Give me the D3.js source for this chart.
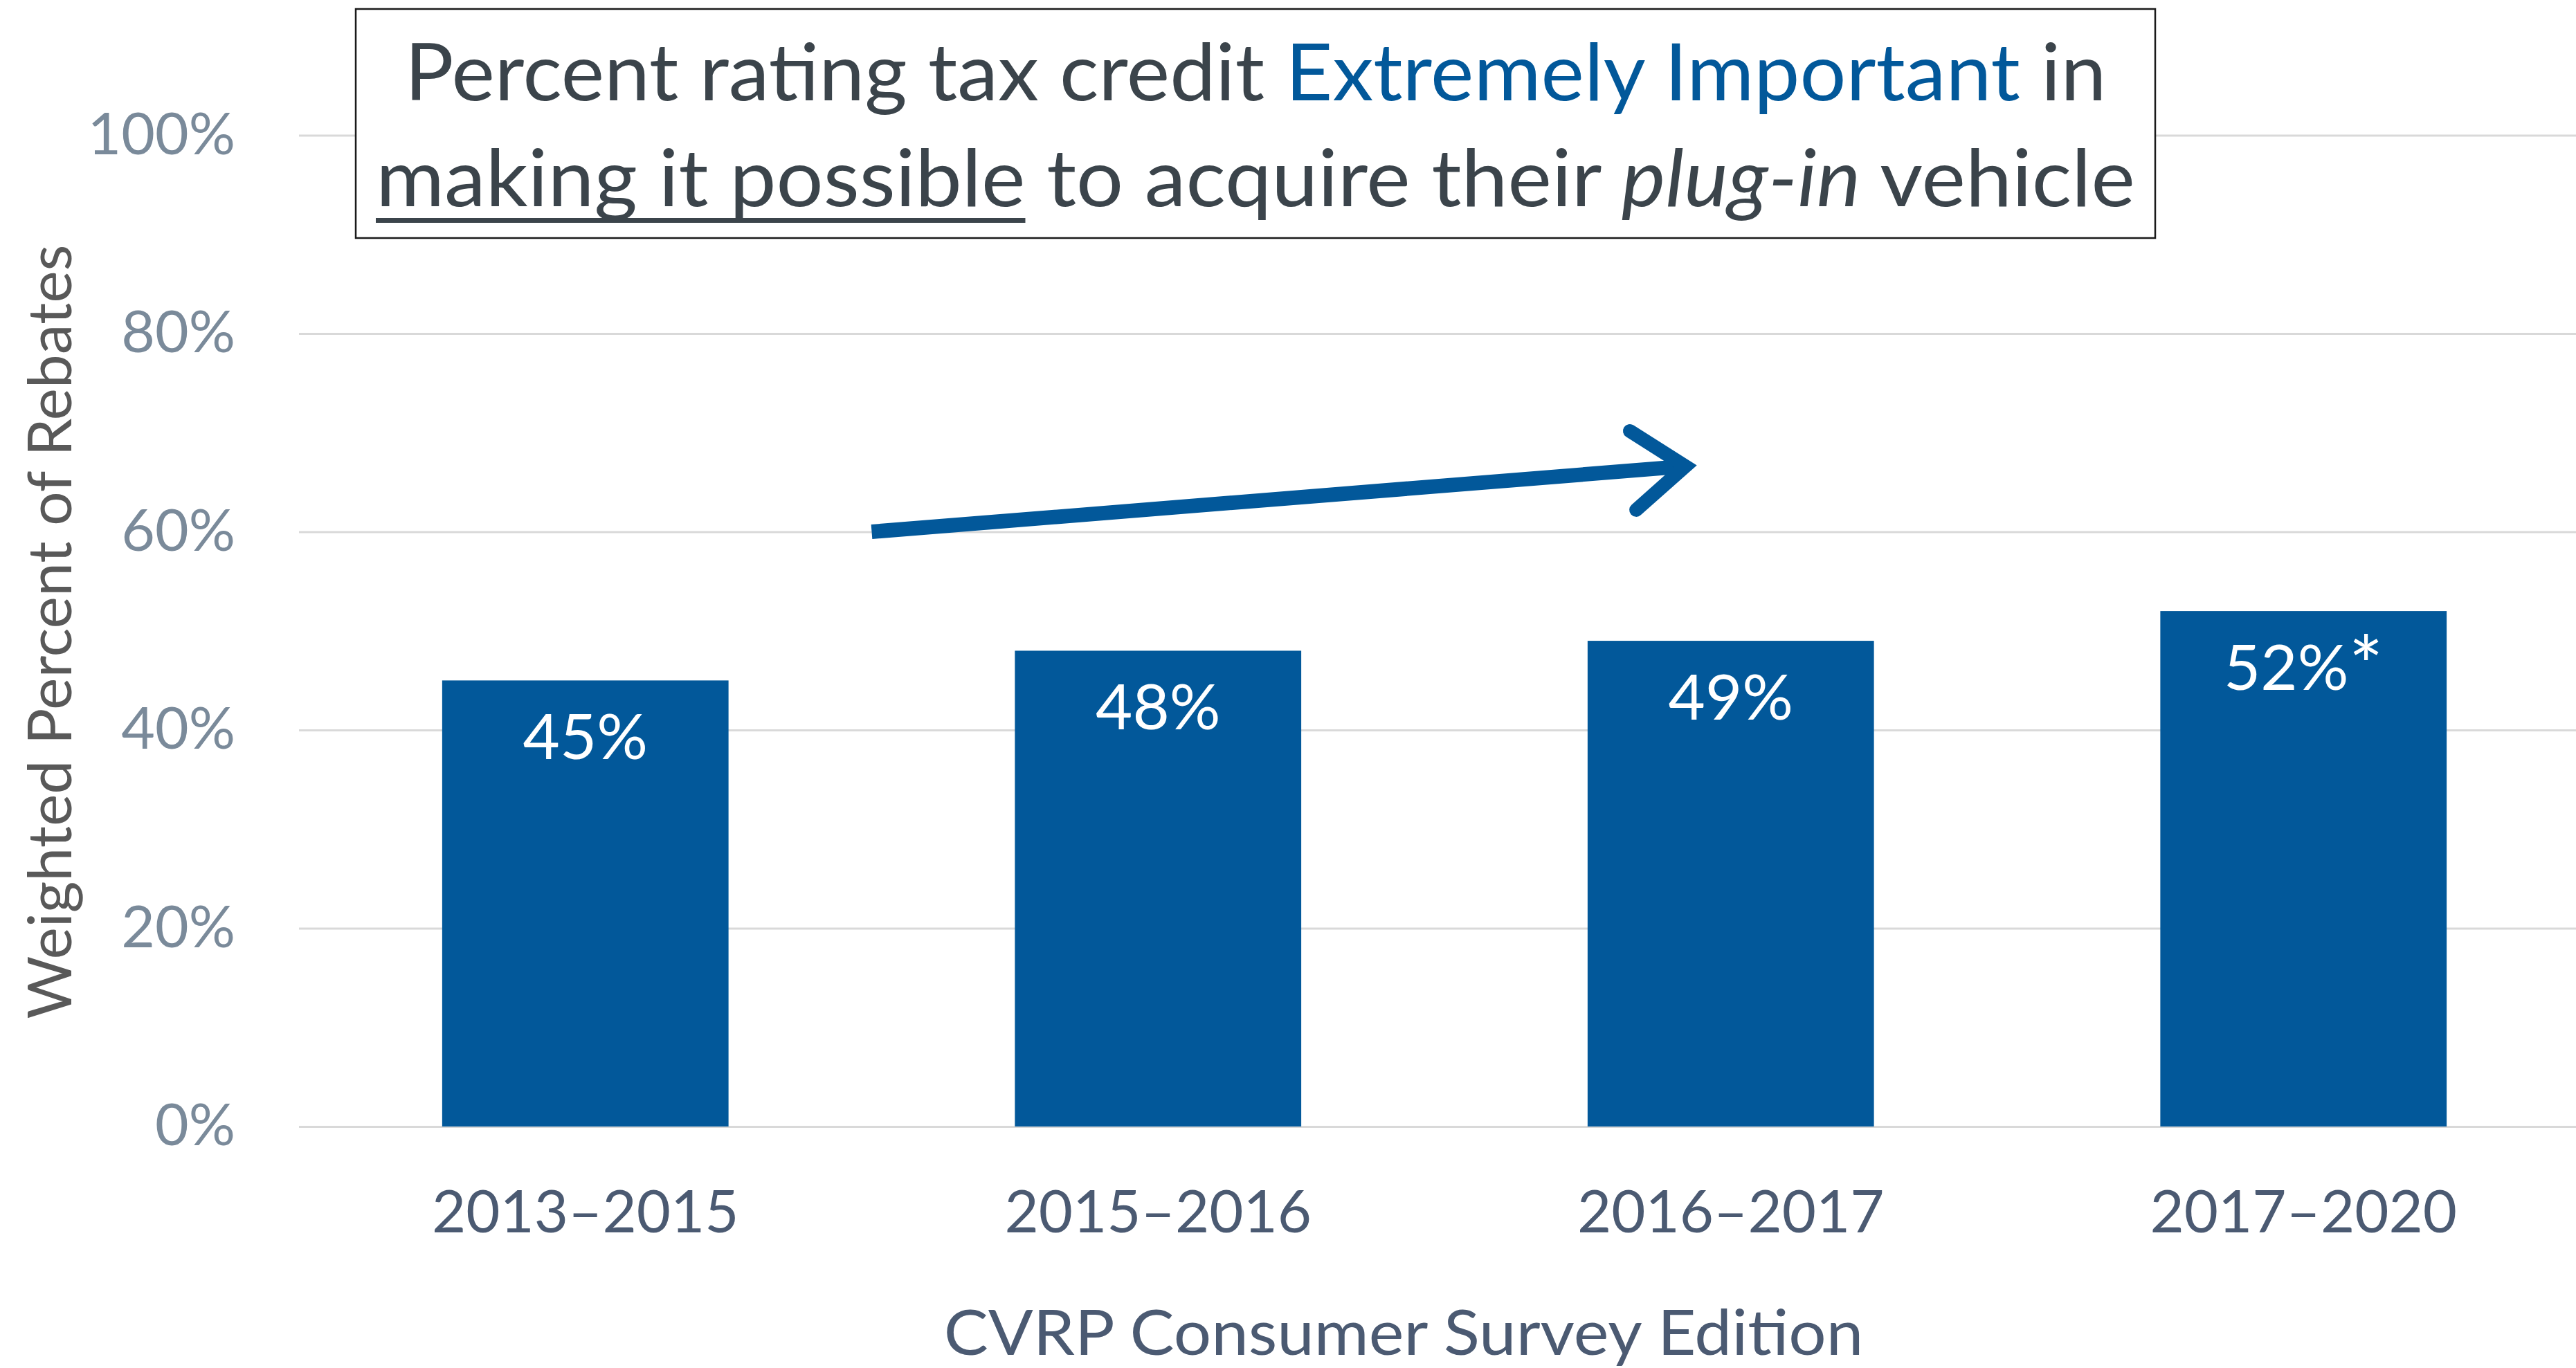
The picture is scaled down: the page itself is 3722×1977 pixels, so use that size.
<!DOCTYPE html>
<html>
<head>
<meta charset="utf-8">
<script src="https://cdn.jsdelivr.net/npm/d3@7"></script>
<style>
  body{margin:0;background:#fff;}
  svg{display:block;font-family:Lato,'Open Sans',sans-serif;}
</style>
</head>
<body>
<svg id="chart"></svg>
<script>
const editions = ['2013–2015','2015–2016','2016–2017','2017–2020'];
const shares = [0.45, 0.48, 0.49, 0.52];
const shareLabels = ['45%','48%','49%','52%*'];
const yTicks = [0, 0.2, 0.4, 0.6, 0.8, 1.0];
// trend arrow, given as [category position, share]
const arrowFrom = [0.5, 0.60];
const arrowTo = [1.94, 0.667];

const W = 3722, H = 1977;
const BLUE = '#02589a';
const svg = d3.select('#chart').attr('width', W).attr('height', H);

const x = d3.scaleBand().domain(editions).range([432, 3742]).paddingInner(0.5).paddingOuter(0.25);
const y = d3.scaleLinear().domain([0, 1]).range([1628, 195.5]);

// squeeze a text horizontally so it spans the wanted width
function fit(sel, target, pre){
  const w = sel.node().getComputedTextLength();
  sel.attr('transform', pre + ' scale(' + (target / w) + ',1)');
}

// gridlines + y ticks
const yAxis = svg.append('g').attr('transform', 'translate(432,0)')
  .call(d3.axisLeft(y).tickValues(yTicks).tickFormat(d3.format('.0%')).tickSize(-(W - 432)).tickPadding(92));
yAxis.attr('font-family', null).attr('font-size', null);
yAxis.select('.domain').remove();
yAxis.selectAll('line').attr('stroke', '#d9d9d9').attr('stroke-width', 3);
yAxis.selectAll('text').attr('fill', '#7a8a9a').style('font-size', '84px');

// bars
svg.append('g').selectAll('rect').data(editions).join('rect')
  .attr('x', d => x(d)).attr('width', x.bandwidth())
  .attr('y', (d, i) => y(shares[i]))
  .attr('height', (d, i) => y(0) - y(shares[i]))
  .attr('fill', BLUE);

svg.append('g').selectAll('text').data(editions).join('text')
  .attr('x', d => x(d) + x.bandwidth() / 2)
  .attr('y', (d, i) => y(shares[i]) + 114)
  .attr('text-anchor', 'middle').attr('fill', '#fff').style('font-size', '92px')
  .each(function(d, i){
    const s = shareLabels[i], t = d3.select(this);
    t.append('tspan').text(s.replace('*', ''));
    if (s.endsWith('*')) t.append('tspan').style('font-size', '118px').attr('dy', 8).text('*');
  });

// category axis
const xAxis = svg.append('g').attr('transform', 'translate(0,' + y(0) + ')')
  .call(d3.axisBottom(x).tickSize(0).tickPadding(0));
xAxis.attr('font-family', null).attr('font-size', null);
xAxis.select('.domain').remove();
xAxis.selectAll('text').attr('y', 153).attr('dy', null).attr('fill', '#4b5a72').style('font-size', '85px');

// axis titles
const xt = svg.append('text').attr('text-anchor', 'middle').attr('fill', '#4b5a72')
  .style('font-size', '92px').text('CVRP Consumer Survey Edition');
fit(xt, 1329, 'translate(2028,1958)');

const yt = svg.append('text').attr('text-anchor', 'middle').attr('fill', '#595959')
  .style('font-size', '88px').text('Weighted Percent of Rebates');
fit(yt, 1119, 'translate(103,913) rotate(-90)');

// trend arrow
const xPos = p => x(editions[0]) + x.bandwidth() / 2 + p * x.step();
const a0 = [xPos(arrowFrom[0]), y(arrowFrom[1])];
const a1 = [xPos(arrowTo[0]), y(arrowTo[1])];
const len = Math.hypot(a1[0] - a0[0], a1[1] - a0[1]);
const dir = [(a1[0] - a0[0]) / len, (a1[1] - a0[1]) / len];
const tip = [a1[0] - 16 * dir[0], a1[1] - 16 * dir[1]];
const ang = Math.atan2(-dir[1], -dir[0]);
const arm = s => [tip[0] + 95 * Math.cos(ang + s * 37 * Math.PI / 180), tip[1] + 95 * Math.sin(ang + s * 37 * Math.PI / 180)];
const ga = svg.append('g').attr('fill', 'none').attr('stroke', BLUE);
ga.append('line').attr('x1', a0[0]).attr('y1', a0[1])
  .attr('x2', tip[0] - 4 * dir[0]).attr('y2', tip[1] - 4 * dir[1]).attr('stroke-width', 21);
ga.append('path').attr('d', d3.line()([arm(1), tip, arm(-1)]))
  .attr('stroke-width', 20).attr('stroke-linecap', 'round').attr('stroke-linejoin', 'miter');

// title box
svg.append('rect').attr('x', 514).attr('y', 13).attr('width', 2600).attr('height', 331)
  .attr('fill', '#fff').attr('stroke', '#1a1a1a').attr('stroke-width', 2.5);

const TC = '#3b444b';
const l1 = svg.append('g');
const t1 = l1.append('text').attr('text-anchor', 'middle').attr('fill', TC).style('font-size', '114px');
t1.append('tspan').text('Percent rating tax credit ');
t1.append('tspan').attr('fill', BLUE).text('Extremely Important');
t1.append('tspan').text(' in');
fit(l1.select('text'), 2459, 'translate(1814,145)');

const l2 = svg.append('g');
const t2 = l2.append('text').attr('text-anchor', 'middle').attr('fill', TC).style('font-size', '114px');
t2.append('tspan').text('making it possible');
t2.append('tspan').text(' to acquire their ');
t2.append('tspan').style('font-style', 'italic').text('plug-in');
t2.append('tspan').text(' vehicle');
const total = t2.node().getComputedTextLength();
const ul = t2.node().getSubStringLength(0, 18);
l2.append('rect').attr('x', -total / 2).attr('y', 17).attr('width', ul).attr('height', 7).attr('fill', TC);
l2.attr('transform', 'translate(1814,298) scale(' + (2542 / total) + ',1)');
</script>
</body>
</html>
